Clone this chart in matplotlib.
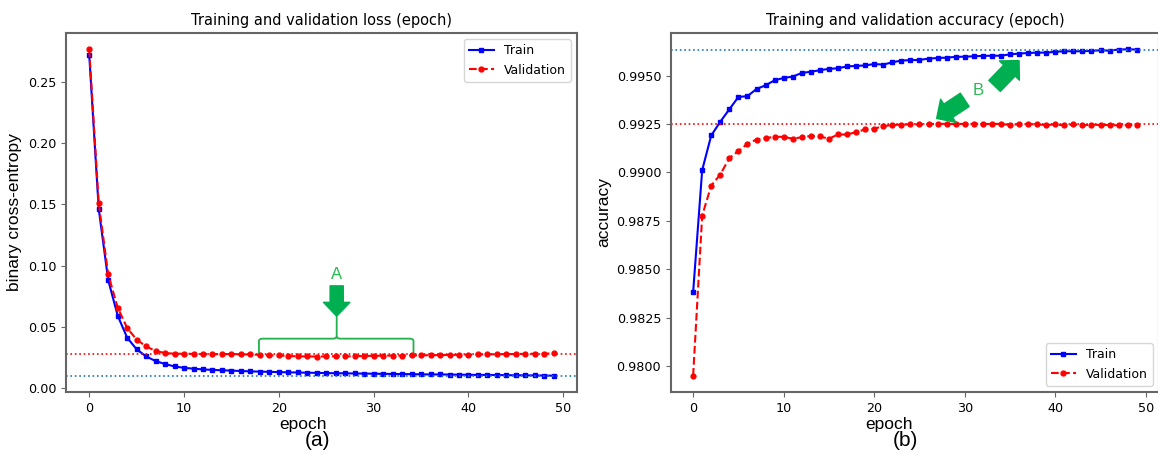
import numpy as np
import matplotlib
matplotlib.use('Agg')
import matplotlib.pyplot as plt
from matplotlib.path import Path
from matplotlib.patches import PathPatch

# Data
epochs = np.arange(50)

train_loss = [0.2718, 0.1463, 0.0882, 0.0592, 0.0412, 0.0317, 0.0259, 0.0221, 0.0197, 0.0177,
              0.0166, 0.0159, 0.0153, 0.0149, 0.0146, 0.0143, 0.0140, 0.0137, 0.0135, 0.0133,
              0.0131, 0.0129, 0.0128, 0.0126, 0.0125, 0.0123, 0.0122, 0.0121, 0.0120, 0.0119,
              0.0118, 0.0117, 0.0116, 0.0115, 0.0114, 0.0113, 0.0112, 0.0112, 0.0111, 0.0110,
              0.0109, 0.0108, 0.0108, 0.0107, 0.0106, 0.0105, 0.0105, 0.0104, 0.0103, 0.0102]
val_loss = [0.2765, 0.1510, 0.0928, 0.0658, 0.0491, 0.0396, 0.0341, 0.0303, 0.0287, 0.0281,
            0.0281, 0.0280, 0.0279, 0.0278, 0.0277, 0.0279, 0.0276, 0.0275, 0.0271, 0.0268,
            0.0267, 0.0262, 0.0260, 0.0259, 0.0258, 0.0259, 0.0260, 0.0259, 0.0261, 0.0263,
            0.0264, 0.0265, 0.0266, 0.0266, 0.0267, 0.0268, 0.0269, 0.0270, 0.0271, 0.0272,
            0.0273, 0.0275, 0.0276, 0.0277, 0.0278, 0.0279, 0.0280, 0.0281, 0.0282, 0.0283]

train_acc = [0.98381, 0.99012, 0.99191, 0.99262, 0.99326, 0.99390, 0.99394, 0.99431, 0.99450, 0.99476,
             0.99488, 0.99495, 0.99514, 0.99520, 0.99528, 0.99535, 0.99538, 0.99548, 0.99550, 0.99553,
             0.99560, 0.99557, 0.99569, 0.99578, 0.99580, 0.99581, 0.99588, 0.99591, 0.99593, 0.99597,
             0.99598, 0.99600, 0.99602, 0.99603, 0.99603, 0.99610, 0.99614, 0.99617, 0.99619, 0.99619,
             0.99623, 0.99626, 0.99626, 0.99626, 0.99628, 0.99631, 0.99629, 0.99635, 0.99636, 0.99635]
val_acc = [0.97950, 0.98777, 0.98932, 0.98989, 0.99074, 0.99110, 0.99148, 0.99170, 0.99177, 0.99184,
           0.99184, 0.99174, 0.99182, 0.99188, 0.99186, 0.99174, 0.99196, 0.99196, 0.99208, 0.99222,
           0.99226, 0.99239, 0.99245, 0.99247, 0.99248, 0.99248, 0.99250, 0.99251, 0.99251, 0.99250,
           0.99251, 0.99251, 0.99251, 0.99250, 0.99251, 0.99245, 0.99250, 0.99250, 0.99248, 0.99245,
           0.99248, 0.99243, 0.99248, 0.99243, 0.99247, 0.99245, 0.99245, 0.99243, 0.99245, 0.99245]

loss_ref = [0.0102, 0.0281]     # dotted reference lines (train, val)
acc_ref = [0.99632, 0.99251]

green = '#00b050'
text_green = '#2cba55'
spine_col = '#666666'

fig = plt.figure(figsize=(11.58, 4.54), dpi=100)
ax1 = fig.add_axes([0.0570, 0.1366, 0.4413, 0.7907])
ax2 = fig.add_axes([0.5794, 0.1366, 0.4214, 0.7907])

label_font = dict(family='Liberation Sans', fontsize=12.5)

for ax in (ax1, ax2):
    for s in ax.spines.values():
        s.set_color(spine_col)
        s.set_linewidth(1.5)
    ax.tick_params(labelsize=9.2, color=spine_col)

# ---- (a) loss
ax1.plot(epochs, train_loss, color='blue', marker='s', markersize=3.5, linewidth=1.5, label='Train')
ax1.plot(epochs, val_loss, color='red', linestyle='--', marker='o', markersize=3.5, linewidth=1.5,
         label='Validation')
ax1.axhline(loss_ref[0], color='#1f77b4', linestyle=':', linewidth=1.2)
ax1.axhline(loss_ref[1], color='red', linestyle=':', linewidth=1.2)
ax1.set_title('Training and validation loss (epoch)', fontsize=10.5)
ax1.set_ylabel('binary cross-entropy', **label_font)
ax1.set_xlabel('epoch', **label_font, labelpad=0)
ax1.xaxis.set_label_coords(0.464, -0.07)
ax1.set_xticks([0, 10, 20, 30, 40, 50])
ax1.legend(loc='upper right', fontsize=9)

# brace + arrow "A"
bx0, bx1, bxc = 17.9, 34.2, 26.1
by_low, by_mid, by_top = 0.0287, 0.0404, 0.0587
verts = [(bx0, by_low), (bx0, by_mid - 0.002), (bx0, by_mid), (bx0 + 0.4, by_mid),
         (bxc - 0.4, by_mid), (bxc, by_mid), (bxc, by_mid + 0.002), (bxc, by_top)]
codes = [Path.MOVETO, Path.LINETO, Path.CURVE3, Path.CURVE3,
         Path.LINETO, Path.CURVE3, Path.CURVE3, Path.LINETO]
verts2 = [(bx1, by_low), (bx1, by_mid - 0.002), (bx1, by_mid), (bx1 - 0.4, by_mid),
          (bxc + 0.4, by_mid), (bxc, by_mid), (bxc, by_mid + 0.002)]
codes2 = [Path.MOVETO, Path.LINETO, Path.CURVE3, Path.CURVE3,
          Path.LINETO, Path.CURVE3, Path.CURVE3]
for v, c in ((verts, codes), (verts2, codes2)):
    ax1.add_patch(PathPatch(Path(v, c), facecolor='none', edgecolor='#22b14c', linewidth=1.3))
arrow_style = 'simple,head_width=1.9,head_length=1.0,tail_width=0.95'
ax1.annotate('', xy=(bxc, by_top), xytext=(bxc, 0.0835),
             arrowprops=dict(arrowstyle=arrow_style, color=green, shrinkA=0, shrinkB=0))
ax1.text(bxc, 0.0865, 'A', color=text_green, fontsize=12, ha='center', va='bottom',
         family='Liberation Sans')

# ---- (b) accuracy
ax2.plot(epochs, train_acc, color='blue', marker='s', markersize=3.5, linewidth=1.5, label='Train')
ax2.plot(epochs, val_acc, color='red', linestyle='--', marker='o', markersize=3.5, linewidth=1.5,
         label='Validation')
ax2.axhline(acc_ref[0], color='#1f77b4', linestyle=':', linewidth=1.2)
ax2.axhline(acc_ref[1], color='red', linestyle=':', linewidth=1.2)
ax2.set_title('Training and validation accuracy (epoch)', fontsize=10.5)
ax2.set_ylabel('accuracy', **label_font)
ax2.set_xlabel('epoch', **label_font, labelpad=0)
ax2.xaxis.set_label_coords(0.447, -0.07)
ax2.set_xticks([0, 10, 20, 30, 40, 50])
ax2.set_yticks(np.arange(0.98, 0.99501, 0.0025))
ax2.yaxis.set_major_formatter(matplotlib.ticker.FormatStrFormatter('%.4f'))
ax2.legend(loc='lower right', fontsize=9)

arrow_style_b = 'simple,head_width=2.0,head_length=1.0,tail_width=1.15'
ax2.annotate('', xy=(36.0, 0.99578), xytext=(33.3, 0.99447),
             arrowprops=dict(arrowstyle=arrow_style_b, color=green, shrinkA=0, shrinkB=0))
ax2.annotate('', xy=(26.9, 0.99279), xytext=(30.0, 0.99375),
             arrowprops=dict(arrowstyle=arrow_style_b, color=green, shrinkA=0, shrinkB=0))
ax2.text(31.5, 0.99425, 'B', color=text_green, fontsize=12, ha='center', va='center',
         family='Liberation Sans')

fig.text(318 / 1158, 1 - 441 / 454, '(a)', ha='center', va='center', fontsize=15,
         family='Liberation Sans')
fig.text(905 / 1158, 1 - 441 / 454, '(b)', ha='center', va='center', fontsize=15,
         family='Liberation Sans')

fig.savefig('out.png', dpi=100)
